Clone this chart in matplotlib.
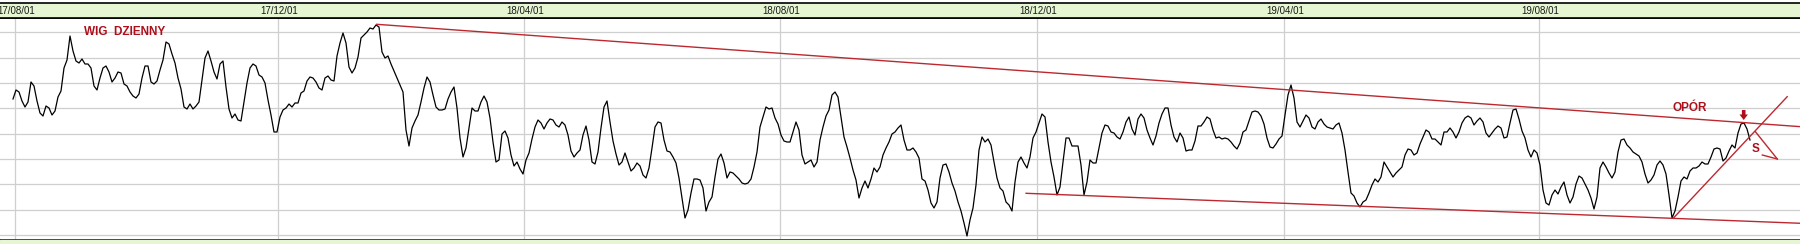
import numpy as np
import matplotlib
matplotlib.use('Agg')
import matplotlib.pyplot as plt
from matplotlib.patches import FancyArrow, Rectangle

# WIG daily closes (chart units, one value per session)
wig_aug_nov17 = [141, 150, 148, 139, 133, 138, 158, 154, 139, 127, 124, 134, 132, 125, 129, 143, 149, 172, 180, 204,
                 189, 179, 177, 181, 176, 176, 172, 154, 150, 162, 172, 174, 168, 158, 162, 168, 167, 156, 154, 148,
                 144, 142, 146, 162, 174, 174, 158, 156, 159, 170, 180, 198, 196, 186, 177, 162, 151, 133, 131, 136,
                 131, 134, 138, 160, 182, 189, 179, 168, 161, 176, 179, 153, 131, 122, 126, 120, 119, 138, 157, 172,
                 176, 174]
wig_nov17_mar18 = [165, 163, 157, 140, 125, 108, 108, 123, 130, 132, 136, 133, 137, 137, 147, 149, 159, 163, 162, 158,
                   152, 150, 162, 164, 160, 159, 184, 197, 207, 197, 173, 167, 172, 183, 202, 205, 208, 212, 211, 215,
                   213, 188, 182, 184, 176, 169, 162, 155, 148, 110, 94, 112, 119, 125, 138, 152, 163, 158, 145, 133,
                   130, 130, 131, 141, 148, 153, 132, 102, 83, 92, 112, 132, 129, 129, 138, 144, 138, 122, 98, 78,
                   80, 106, 109, 102, 85, 74]
wig_apr_jul18 = [78, 71, 66, 80, 87, 101, 113, 120, 117, 111, 117, 121, 120, 115, 113, 118, 115, 105, 89, 83,
                 87, 90, 105, 114, 100, 78, 76, 88, 112, 133, 139, 118, 99, 86, 75, 78, 87, 78, 69, 72,
                 77, 74, 65, 62, 72, 92, 113, 118, 117, 100, 89, 88, 83, 77, 62, 42, 22, 30, 47, 61,
                 61, 60, 52, 29, 38, 43, 63, 81, 86, 77, 62, 68, 67, 64, 61, 57, 56, 57, 61, 73,
                 88, 113, 123, 133, 131]
wig_aug_nov18 = [132, 122, 116, 105, 99, 98, 98, 108, 118, 110, 85, 76, 78, 80, 73, 78, 100, 113, 124, 130,
                 145, 148, 143, 123, 103, 93, 82, 70, 60, 42, 52, 59, 52, 61, 72, 68, 73, 85, 92, 98,
                 106, 108, 112, 115, 100, 90, 90, 92, 88, 82, 61, 59, 50, 37, 32, 38, 62, 75, 76, 68,
                 57, 49, 38, 29, 17, 4, 20, 32, 55, 90, 103, 98, 101, 95, 78, 62, 52, 49, 38, 35,
                 29, 58, 78, 83, 77]
wig_dec18_mar19 = [72, 83, 102, 108, 117, 126, 123, 98, 78, 63, 45, 53, 78, 102, 102, 94, 94, 94, 75, 45,
                   58, 80, 77, 77, 92, 107, 115, 114, 108, 107, 103, 101, 108, 118, 123, 111, 105, 121, 126, 122,
                   110, 102, 95, 104, 117, 126, 132, 132, 115, 103, 98, 107, 102, 89, 90, 90, 99, 114, 114, 118,
                   123, 121, 110, 102, 103, 101, 102, 101, 98, 94, 91, 97, 108, 110, 119, 128, 129, 128, 124, 116,
                   102, 93, 92, 96, 101]
wig_apr_jul19 = [104, 125, 145, 155, 142, 118, 113, 119, 125, 122, 113, 111, 118, 121, 116, 113, 112, 111, 115, 117,
                 107, 90, 68, 47, 44, 37, 33, 38, 40, 47, 55, 61, 58, 63, 78, 73, 68, 63, 67, 70,
                 73, 85, 91, 90, 85, 87, 96, 103, 110, 108, 101, 101, 98, 95, 108, 108, 112, 108, 102, 108,
                 117, 122, 124, 122, 115, 119, 122, 118, 107, 103, 107, 111, 114, 112, 102, 103, 117, 130, 131, 121,
                 109, 102, 90, 83, 90]
wig_aug_oct19 = [87, 75, 50, 37, 35, 45, 50, 46, 53, 58, 45, 37, 43, 56, 64, 62, 56, 50, 42, 31,
                 43, 72, 78, 73, 67, 62, 68, 88, 100, 101, 95, 92, 88, 86, 84, 78, 66, 57, 60, 65,
                 75, 79, 75, 66, 45, 22, 29, 43, 59, 63, 61, 69, 72, 72, 74, 78, 76, 76, 83, 91,
                 92, 91, 79, 82, 89, 95, 92, 107, 116, 117, 111, 100]

tick_sessions = [0.7, 88.3, 170.3, 255.7, 341.3, 423.7, 508.7]
tick_labels = ['17/08/01', '17/12/01', '18/04/01', '18/08/01', '18/12/01', '19/04/01', '19/08/01']

# trend lines: (sessions, levels)
resistance = ([121.2, 596], [215.7, 113.3])
support = ([337.7, 596], [46.7, 16.7])
rising = ([553.4, 591.4], [21.7, 143.3])

wig = np.concatenate([wig_aug_nov17, wig_nov17_mar18, wig_apr_jul18, wig_aug_nov18,
                      wig_dec18_mar19, wig_apr_jul19, wig_aug_oct19])
sessions = np.arange(len(wig))

red = '#bc2830'
red_txt = '#ad0f1b'
green = '#e6f6d2'
grid_c = '#cfcfcf'

fig = plt.figure(figsize=(18, 2.44), dpi=100)
fig.patch.set_facecolor('white')
fig.patches.append(Rectangle((0, 0), 1, 4 / 244, transform=fig.transFigure, color=green, zorder=0))

xlim = (-13 / 3, (1800 - 13) / 3)

# main chart
ax = fig.add_axes([0, 4 / 244, 1, 222 / 244])
ax.set_xlim(*xlim)
ax.set_ylim(0, 222)
ax.set_xticks(tick_sessions)
ax.set_yticks(5 + 25.35 * np.arange(9))
ax.tick_params(length=0, labelbottom=False, labelleft=False)
ax.grid(True, color=grid_c, lw=0.9)
ax.set_axisbelow(True)
for s in ['left', 'right']:
    ax.spines[s].set_visible(False)
for s in ['top', 'bottom']:
    ax.spines[s].set_color('black')
    ax.spines[s].set_linewidth(1.2)

ax.plot(sessions, wig, color='black', lw=0.9, zorder=3)
for xs, ys in [resistance, support, rising]:
    ax.plot(xs, ys, color=red, lw=1.0, zorder=4)

ax.text(37.2, 208.3, 'WIG  DZIENNY', color=red_txt, fontsize=8.5, fontweight='bold',
        family='Liberation Sans', ha='center', va='center')
ax.text(558.9, 132, 'OPÓR', color=red_txt, fontsize=8.5, fontweight='bold',
        family='Liberation Sans', ha='center', va='center')
ax.text(581, 91.5, 'S', color=red_txt, fontsize=8.5, fontweight='bold',
        family='Liberation Sans', ha='center', va='center')

ax.add_patch(FancyArrow(576.9, 130, 0, -10, width=1.2, head_width=2.8, head_length=5.5,
                        length_includes_head=True, color=red_txt, lw=0, zorder=5))
ax.plot([580.8, 588.1], [108.3, 81], color=red, lw=1.0, zorder=5)
ax.plot([583.1, 588.1], [85, 81], color=red, lw=1.0, zorder=5)

# date header band
hx = fig.add_axes([0, (244 - 18) / 244, 1, 15.5 / 244])
hx.set_facecolor(green)
hx.set_xlim(*xlim)
hx.set_ylim(0, 1)
hx.set_xticks([])
hx.set_yticks([])
for s in ['left', 'right']:
    hx.spines[s].set_visible(False)
for s in ['top', 'bottom']:
    hx.spines[s].set_linewidth(1.2)
for x, lab in zip(tick_sessions, tick_labels):
    hx.text(x + 0.5, 0.48, lab, fontsize=7, family='Liberation Sans', color='#1a1a1a',
            ha='center', va='center')

fig.savefig('out.png', dpi=100)
